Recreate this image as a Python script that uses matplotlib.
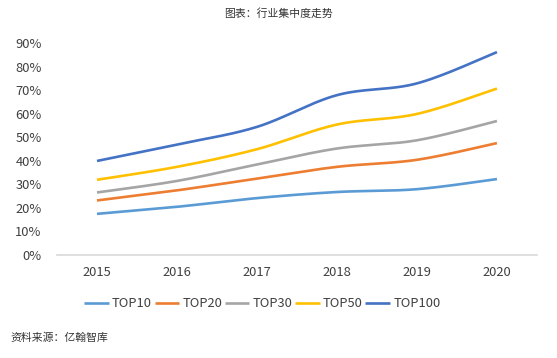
import numpy as np
import matplotlib
matplotlib.use("Agg")
import matplotlib.pyplot as plt

plt.rcParams['font.family'] = ['Noto Sans CJK SC', 'DejaVu Sans']

years = ['2015', '2016', '2017', '2018', '2019', '2020']
series_names = ['TOP10', 'TOP20', 'TOP30', 'TOP50', 'TOP100']
top10 = [17.5, 20.5, 24.2, 26.8, 28.0, 32.3]
top20 = [23.2, 27.5, 32.5, 37.5, 40.5, 47.6]
top30 = [26.6, 31.5, 38.5, 45.3, 48.8, 57.0]
top50 = [32.0, 37.5, 45.0, 55.5, 60.0, 70.8]
top100 = [40.0, 47.0, 54.5, 68.0, 73.0, 86.3]
colors = ['#5B9BD5', '#ED7D31', '#A5A5A5', '#FFC000', '#4472C4']
title = '图表：行业集中度走势'
source = '资料来源：亿翰智库'


def smooth(x, y, n=30):
    # Catmull-Rom style smoothing (like Excel's smoothed lines)
    x = np.asarray(x, float)
    y = np.asarray(y, float)
    px = np.concatenate([[x[0]], x, [x[-1]]])
    py = np.concatenate([[y[0]], y, [y[-1]]])
    xs, ys = [], []
    t = np.linspace(0, 1, n)
    for i in range(1, len(px) - 2):
        p0, p1, p2, p3 = [np.array([px[j], py[j]]) for j in range(i - 1, i + 3)]
        c1 = p1 + (p2 - p0) / 6
        c2 = p2 - (p3 - p1) / 6
        b = ((1 - t) ** 3)[:, None] * p1 + (3 * (1 - t) ** 2 * t)[:, None] * c1 \
            + (3 * (1 - t) * t ** 2)[:, None] * c2 + (t ** 3)[:, None] * p2
        xs.extend(b[:, 0])
        ys.extend(b[:, 1])
    return np.array(xs), np.array(ys)


fig = plt.figure(figsize=(5.57, 3.58), dpi=100)
ax = fig.add_axes([0.1023, 0.2877, 0.8617, 0.591])

xpos = np.arange(len(years))
for name, vals, c in zip(series_names, [top10, top20, top30, top50, top100], colors):
    sx, sy = smooth(xpos, np.array(vals) / 100)
    ax.plot(sx, sy, color=c, lw=1.9, label=name, solid_capstyle='butt')

ax.set_xlim(-0.5, 5.5)
ax.set_ylim(0, 0.9)
ax.set_yticks(np.arange(0, 0.91, 0.1))
ax.set_yticklabels([f'{int(round(v*100))}%' for v in np.arange(0, 0.91, 0.1)])
ax.set_xticks(xpos)
ax.set_xticklabels(years)
for s in ['top', 'right', 'left']:
    ax.spines[s].set_visible(False)
ax.spines['bottom'].set_color('#D9D9D9')
ax.spines['bottom'].set_linewidth(1.2)
ax.tick_params(axis='both', length=0, labelsize=9.3, colors='#404040')
ax.tick_params(axis='x', pad=8)
ax.tick_params(axis='y', pad=11)

fig.text(0.5, 0.962, title, ha='center', va='center', fontsize=7.8, color='#333333',
         fontweight='medium')
fig.text(0.018, 0.058, source, ha='left', va='center', fontsize=7.8, color='#333333',
         fontweight='medium')

fig.legend(loc='center', bbox_to_anchor=(0.471, 0.152), ncol=5, frameon=False,
           fontsize=9.3, handlelength=1.9, handletextpad=0.25, columnspacing=0.2,
           labelcolor='#404040')

fig.savefig('out.png', dpi=100)
